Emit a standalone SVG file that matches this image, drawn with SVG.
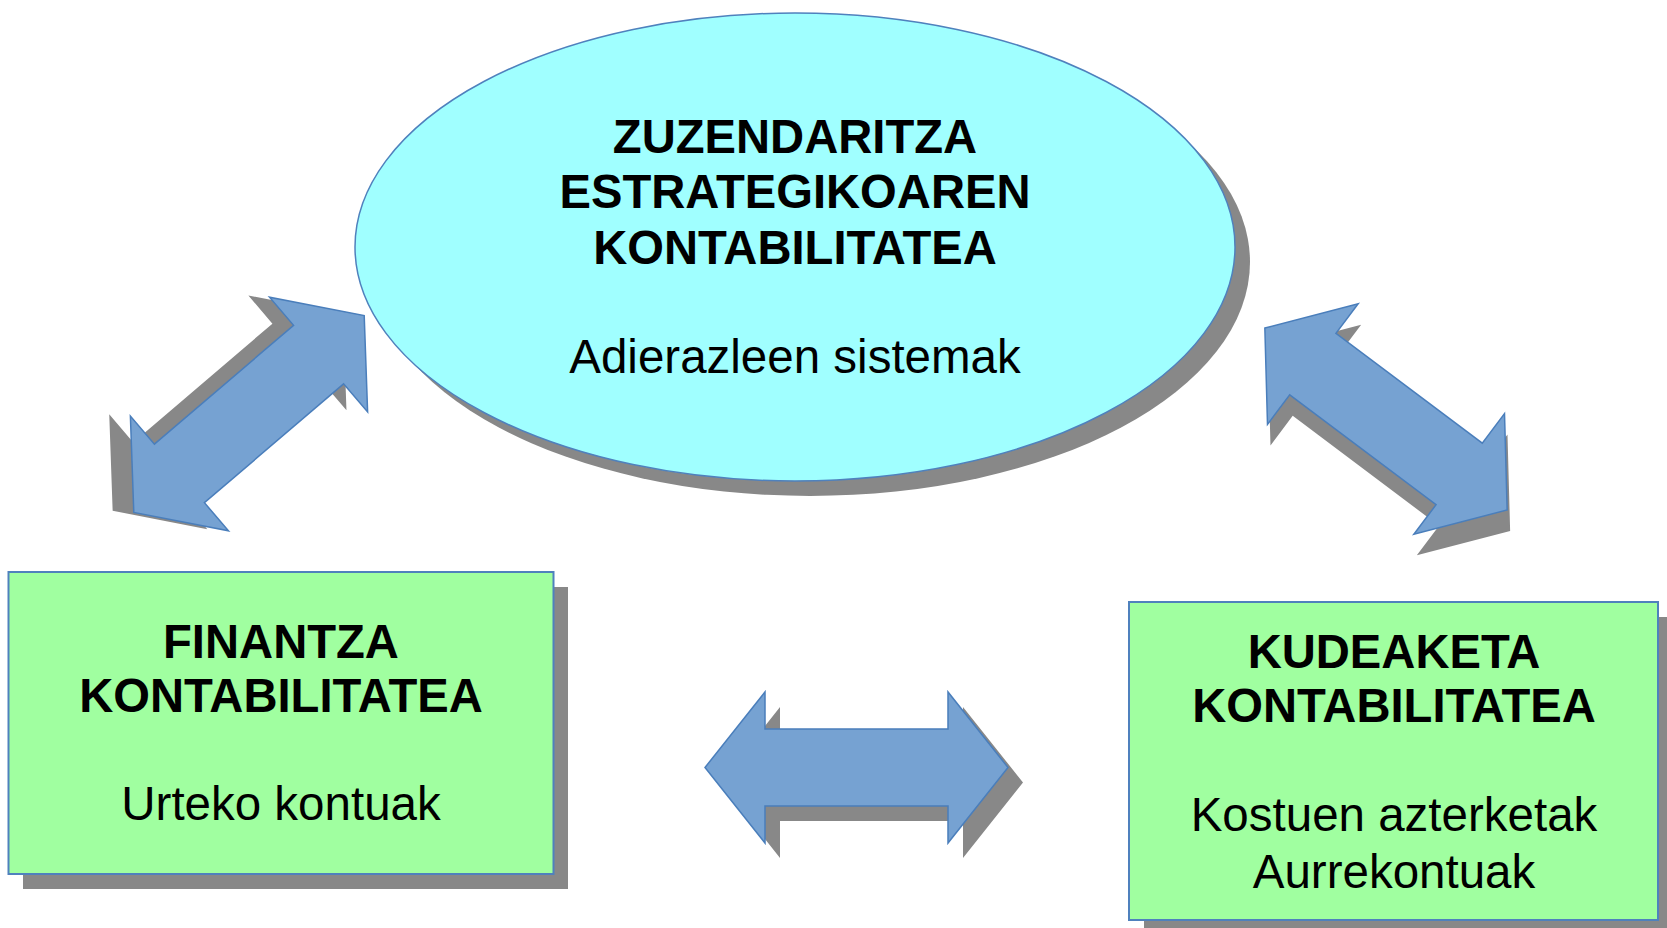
<svg xmlns="http://www.w3.org/2000/svg" xmlns:xlink="http://www.w3.org/1999/xlink" width="1667" height="928" viewBox="0 0 1667 928">
<style>
.shadow{fill:#888888;stroke:none}
.arrow{fill:#76a2d2;stroke:#4a7ebb;stroke-width:1.5}
.oval{fill:#a0ffff;stroke:#4f81bd;stroke-width:1.5}
.box{fill:#a0ffa0;stroke:#4f81bd;stroke-width:2}
.h{font-family:"Liberation Sans",Arial,sans-serif;font-weight:bold;font-size:47.2px;fill:#000;text-anchor:middle}
.t{font-family:"Liberation Sans",Arial,sans-serif;font-size:47.5px;fill:#000;text-anchor:middle}
</style>
<defs>
<path id="dblarrow" d="M -151.5,0 L -91.5,-75.5 L -91.5,-38.5 L 91.5,-38.5 L 91.5,-75.5 L 151.5,0 L 91.5,75.5 L 91.5,38.5 L -91.5,38.5 L -91.5,75.5 Z"/>
</defs>
<rect width="1667" height="928" fill="#ffffff"/>

<g id="connectors">
  <g id="arrow-left" transform="translate(249,414) rotate(139.5)">
    <use xlink:href="#dblarrow" class="shadow" transform="translate(15,15)"/>
    <use xlink:href="#dblarrow" class="arrow"/>
  </g>
  <g id="arrow-right" transform="translate(1386,419) rotate(36.9)">
    <use xlink:href="#dblarrow" class="shadow" transform="translate(15,15)"/>
    <use xlink:href="#dblarrow" class="arrow"/>
  </g>
  <g id="arrow-bottom" transform="translate(856.5,767.5)">
    <use xlink:href="#dblarrow" class="shadow" transform="translate(15,15)"/>
    <use xlink:href="#dblarrow" class="arrow"/>
  </g>
</g>

<g id="node-zuzendaritza">
  <ellipse class="shadow" cx="810" cy="262" rx="440" ry="234"/>
  <ellipse class="oval" cx="795" cy="247" rx="440" ry="234"/>
  <text class="h" x="795" y="153">ZUZENDARITZA</text>
  <text class="h" x="795" y="208">ESTRATEGIKOAREN</text>
  <text class="h" x="795" y="264">KONTABILITATEA</text>
  <text class="t" x="795" y="373">Adierazleen sistemak</text>
</g>

<g id="node-finantza">
  <rect class="shadow" x="23" y="587" width="545" height="302"/>
  <rect class="box" x="8.5" y="572" width="545" height="302"/>
  <text class="h" x="281" y="658">FINANTZA</text>
  <text class="h" x="281" y="712">KONTABILITATEA</text>
  <text class="t" x="281" y="820">Urteko kontuak</text>
</g>

<g id="node-kudeaketa">
  <rect class="shadow" x="1144" y="617" width="529" height="318"/>
  <rect class="box" x="1129" y="602" width="529" height="318"/>
  <text class="h" x="1394" y="668">KUDEAKETA</text>
  <text class="h" x="1394" y="722">KONTABILITATEA</text>
  <text class="t" x="1394" y="831">Kostuen azterketak</text>
  <text class="t" x="1394" y="888">Aurrekontuak</text>
</g>
</svg>
